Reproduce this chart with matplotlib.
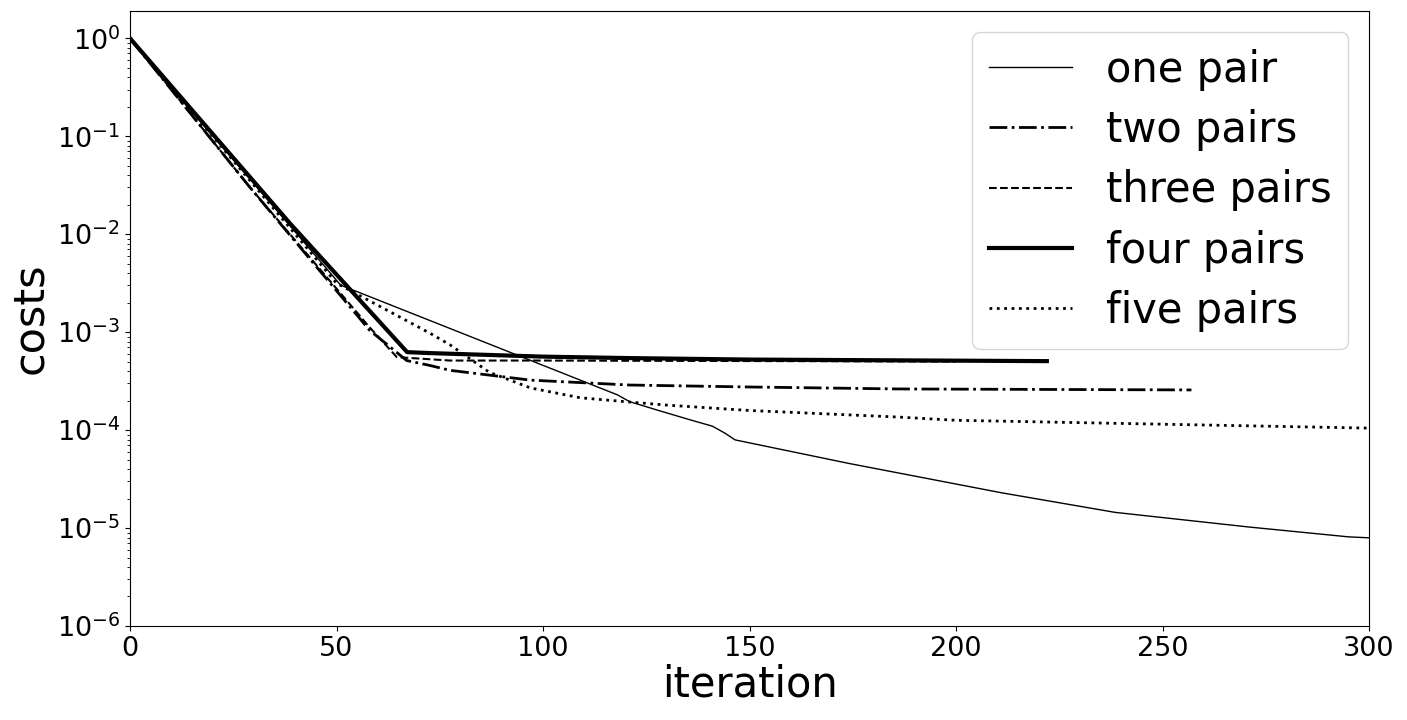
import numpy as np
import matplotlib
matplotlib.use('Agg')
import matplotlib.pyplot as plt

# iteration / cost pairs (log10 of cost stored)
one_x = [0, 51, 118, 121, 128, 136, 141, 144, 146.5, 174, 211, 238.5, 271, 295, 300]
one_log = [0, -2.52, -3.64, -3.71, -3.80, -3.90, -3.96, -4.03, -4.10, -4.34, -4.64, -4.84, -4.99, -5.09, -5.10]

two_x = [0, 29, 58, 67, 72.6, 77.5, 97, 121, 150, 186, 257]
two_log = [0, -1.52, -2.98, -3.29, -3.34, -3.39, -3.49, -3.54, -3.56, -3.58, -3.59]

three_x = [0, 29, 58, 64.6, 77.5, 100, 150, 200]
three_log = [0, -1.52, -2.95, -3.255, -3.29, -3.29, -3.295, -3.30]

four_x = [0, 38.7, 67.1, 72.6, 100, 121, 150, 222]
four_log = [0, -1.888, -3.204, -3.214, -3.25, -3.265, -3.28, -3.296]

five_x = [0, 50, 72.6, 77.5, 87, 97, 109, 120, 130, 150, 186, 200, 250, 300]
five_log = [0, -2.50, -3.01, -3.13, -3.41, -3.57, -3.67, -3.71, -3.745, -3.80, -3.867, -3.90, -3.94, -3.98]

labels = ['one pair', 'two pairs', 'three pairs', 'four pairs', 'five pairs']


def cost_plot(out_path):
    fig = plt.figure(figsize=(14.07, 7.2), dpi=100)
    ax = fig.add_subplot(111)
    fig.subplots_adjust(left=0.0924, right=0.973, top=0.9847, bottom=0.1306)

    ax.plot(one_x, 10 ** np.array(one_log), '-', color='k', linewidth=1, label=labels[0])
    ax.plot(two_x, 10 ** np.array(two_log), '-.', color='k', linewidth=2, label=labels[1])
    ax.plot(three_x, 10 ** np.array(three_log), '--', color='k', linewidth=1.5, label=labels[2])
    ax.plot(four_x, 10 ** np.array(four_log), '-', color='k', linewidth=3, label=labels[3])
    ax.plot(five_x, 10 ** np.array(five_log), ':', color='k', linewidth=2, label=labels[4])

    ax.set_yscale('log')
    ax.set_xlim(0, 300)
    ax.set_ylim(1e-6, 1.9)
    ax.set_xlabel('iteration', fontsize=30, labelpad=1)
    ax.set_ylabel('costs', fontsize=31, labelpad=4)
    ax.tick_params(axis='both', which='major', labelsize=19.5)
    ax.legend(fontsize=30, loc='upper right', labelspacing=0.44)

    plt.savefig(out_path, dpi=100)


if __name__ == '__main__':
    cost_plot('out.png')
